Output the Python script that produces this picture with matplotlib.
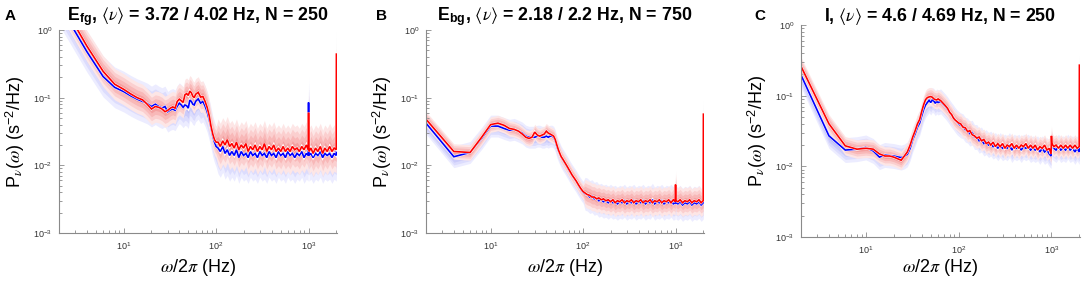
import matplotlib
matplotlib.use("Agg")
import matplotlib.pyplot as plt
import matplotlib.patheffects as pe
import numpy as np

plt.rcParams['font.family'] = ['Liberation Sans', 'DejaVu Sans']
plt.rcParams['mathtext.fontset'] = 'custom'
plt.rcParams['mathtext.rm'] = 'Liberation Sans'
plt.rcParams['mathtext.it'] = 'STIXGeneral:italic'
plt.rcParams['mathtext.bf'] = 'Liberation Sans:bold'
plt.rcParams['mathtext.sf'] = 'Liberation Sans'
plt.rcParams['mathtext.fallback'] = 'stix'

# ---------------- data ----------------
freq_lo = [2, 4, 6, 8, 10, 12, 14, 16, 18, 20, 22, 24, 26, 28, 30, 32, 34, 36, 38, 40,
           42, 44, 46, 48, 50, 52, 54, 56, 58, 60, 64, 68, 72, 76, 80, 84, 88, 92, 96, 100]
freq_hi = [105, 111, 118, 125, 132, 140, 148, 157, 166, 176, 187, 198, 210, 222, 235,
           249, 264, 280, 297, 315, 333, 353, 374, 397, 420, 445, 472, 500, 530, 562,
           595, 631, 668, 708, 750, 795, 843, 893, 946, 990, 1000, 1010, 1060, 1120,
           1190, 1260, 1340, 1420, 1500, 1590, 1690, 1790, 1890, 1990, 2000]

# Panel A (E_fg)
red_A_lo = [3.0, 0.58, 0.245, 0.158, 0.133, 0.113, 0.100, 0.093, 0.080, 0.068, 0.074, 0.072,
            0.068, 0.062, 0.065, 0.070, 0.073, 0.070, 0.088, 0.095, 0.090, 0.085, 0.110, 0.115,
            0.108, 0.125, 0.118, 0.105, 0.100, 0.112, 0.120, 0.102, 0.104, 0.088, 0.072, 0.055,
            0.038, 0.029, 0.024, 0.022]
blue_A_lo = [2.4, 0.48, 0.205, 0.142, 0.123, 0.106, 0.095, 0.088, 0.082, 0.074, 0.080, 0.074,
             0.070, 0.074, 0.062, 0.066, 0.068, 0.065, 0.075, 0.083, 0.078, 0.072, 0.078, 0.076,
             0.070, 0.092, 0.088, 0.080, 0.078, 0.088, 0.096, 0.083, 0.088, 0.075, 0.062, 0.048,
             0.036, 0.027, 0.022, 0.019]
red_A_hi = [0.022, 0.019, 0.023, 0.020, 0.024, 0.019, 0.021, 0.018, 0.022, 0.017, 0.020, 0.018,
            0.021, 0.016, 0.019, 0.017, 0.020, 0.016, 0.019, 0.017, 0.021, 0.016, 0.019, 0.017,
            0.020, 0.016, 0.018, 0.016, 0.019, 0.016, 0.018, 0.016, 0.019, 0.017, 0.018, 0.016,
            0.019, 0.017, 0.020, 0.017, 0.060, 0.016, 0.018, 0.015, 0.018, 0.016, 0.019, 0.015,
            0.018, 0.016, 0.019, 0.016, 0.018, 0.017, 0.44]
blue_A_hi = [0.018, 0.016, 0.019, 0.015, 0.017, 0.014, 0.016, 0.014, 0.017, 0.013, 0.016, 0.014,
             0.015, 0.013, 0.016, 0.014, 0.015, 0.013, 0.016, 0.014, 0.015, 0.013, 0.016, 0.014,
             0.015, 0.013, 0.016, 0.014, 0.015, 0.013, 0.016, 0.014, 0.015, 0.013, 0.015, 0.014,
             0.016, 0.013, 0.015, 0.014, 0.085, 0.014, 0.015, 0.013, 0.015, 0.014, 0.016, 0.013,
             0.015, 0.014, 0.015, 0.013, 0.015, 0.014, 0.016]

# Panel B (E_bg)
red_B_lo = [0.048, 0.016, 0.0155, 0.026, 0.040, 0.042, 0.039, 0.035, 0.034, 0.032, 0.029, 0.026,
            0.025, 0.026, 0.031, 0.028, 0.027, 0.028, 0.029, 0.032, 0.030, 0.029, 0.028, 0.027,
            0.024, 0.020, 0.017, 0.015, 0.0134, 0.0125, 0.0108, 0.0094, 0.0082, 0.0072, 0.0065,
            0.0059, 0.0053, 0.0048, 0.0044, 0.0041]
blue_B_lo = [0.042, 0.0134, 0.0155, 0.025, 0.038, 0.038, 0.035, 0.033, 0.034, 0.032, 0.030, 0.027,
             0.026, 0.026, 0.026, 0.027, 0.027, 0.026, 0.026, 0.027, 0.026, 0.027, 0.027, 0.026,
             0.023, 0.019, 0.0165, 0.0148, 0.0132, 0.0122, 0.0106, 0.0092, 0.0080, 0.0071, 0.0064,
             0.0058, 0.0052, 0.0047, 0.0043, 0.0040]
red_B_hi = [0.0039, 0.0037, 0.0036, 0.0034, 0.0034, 0.0032, 0.0033, 0.0031, 0.0032, 0.0030,
            0.0031, 0.0029, 0.0031, 0.0028, 0.0030, 0.0029, 0.0031, 0.0028, 0.0030, 0.0029,
            0.0031, 0.0028, 0.0030, 0.0029, 0.0031, 0.0028, 0.0030, 0.0029, 0.0031, 0.0028,
            0.0030, 0.0029, 0.0031, 0.0028, 0.0030, 0.0029, 0.0031, 0.0028, 0.0031, 0.0029,
            0.0052, 0.0030, 0.0029, 0.0031, 0.0028, 0.0030, 0.0029, 0.0031, 0.0028, 0.0030,
            0.0029, 0.0031, 0.0028, 0.0030, 0.057]
blue_B_hi = [0.0038, 0.0037, 0.0034, 0.0035, 0.0032, 0.0033, 0.0030, 0.0031, 0.0029, 0.0030,
             0.0028, 0.0030, 0.0028, 0.0029, 0.0027, 0.0029, 0.0028, 0.0030, 0.0027, 0.0029,
             0.0028, 0.0030, 0.0027, 0.0029, 0.0028, 0.0030, 0.0027, 0.0029, 0.0028, 0.0031,
             0.0027, 0.0029, 0.0028, 0.0030, 0.0027, 0.0029, 0.0028, 0.0030, 0.0027, 0.0028,
             0.0035, 0.0028, 0.0027, 0.0029, 0.0026, 0.0028, 0.0027, 0.0029, 0.0026, 0.0028,
             0.0027, 0.0029, 0.0026, 0.0028, 0.0030]

# Panel C (I)
red_C_lo = [0.26, 0.040, 0.0195, 0.0175, 0.018, 0.0175, 0.015, 0.014, 0.014, 0.0135, 0.0128,
            0.0122, 0.014, 0.016, 0.020, 0.026, 0.032, 0.040, 0.046, 0.060, 0.075, 0.088, 0.094,
            0.096, 0.097, 0.095, 0.090, 0.088, 0.087, 0.090, 0.085, 0.078, 0.072, 0.066, 0.058,
            0.054, 0.048, 0.045, 0.043, 0.041]
blue_C_lo = [0.196, 0.027, 0.017, 0.0175, 0.0185, 0.0165, 0.0135, 0.0145, 0.0142, 0.014, 0.0136,
             0.0133, 0.0138, 0.0148, 0.018, 0.024, 0.029, 0.036, 0.041, 0.052, 0.064, 0.074, 0.080,
             0.086, 0.080, 0.087, 0.084, 0.078, 0.083, 0.080, 0.083, 0.076, 0.070, 0.064, 0.058,
             0.053, 0.049, 0.045, 0.042, 0.040]
red_C_hi = [0.040, 0.036, 0.035, 0.031, 0.032, 0.028, 0.027, 0.025, 0.026, 0.023, 0.024, 0.021,
            0.022, 0.020, 0.022, 0.019, 0.021, 0.019, 0.021, 0.018, 0.020, 0.019, 0.021, 0.018,
            0.020, 0.018, 0.020, 0.019, 0.021, 0.018, 0.020, 0.018, 0.020, 0.017, 0.019, 0.018,
            0.020, 0.017, 0.018, 0.015, 0.027, 0.021, 0.019, 0.020, 0.018, 0.020, 0.018, 0.020,
            0.018, 0.020, 0.018, 0.020, 0.018, 0.019, 0.27]
blue_C_hi = [0.038, 0.037, 0.033, 0.032, 0.029, 0.030, 0.026, 0.026, 0.023, 0.024, 0.021, 0.022,
             0.020, 0.021, 0.019, 0.020, 0.018, 0.020, 0.018, 0.019, 0.018, 0.020, 0.017, 0.019,
             0.018, 0.019, 0.017, 0.019, 0.018, 0.019, 0.017, 0.018, 0.017, 0.018, 0.016, 0.018,
             0.016, 0.017, 0.015, 0.014, 0.022, 0.019, 0.018, 0.017, 0.019, 0.017, 0.018, 0.017,
             0.019, 0.017, 0.018, 0.016, 0.018, 0.016, 0.019]

# band spread factors (outermost) : [below 100 Hz, above 100 Hz]
spread_red = {'A': [1.7, 2.2], 'B': [1.3, 1.6], 'C': [1.35, 1.4]}
spread_blue = {'A': [2.0, 2.4], 'B': [1.45, 1.75], 'C': [1.5, 1.5]}

panel_letters = ['A', 'B', 'C']
titles = [r"E$_{\mathbf{fg}}$, $\langle\nu\rangle$ = 3.72 / 4.02 Hz, N = 250",
          r"E$_{\mathbf{bg}}$, $\langle\nu\rangle$ = 2.18 / 2.2 Hz, N = 750",
          r"I, $\langle\nu\rangle$ = 4.6 / 4.69 Hz, N = 250"]
xlabel = r"$\omega$/2$\pi$ (Hz)"
ylabel = r"P$_{\nu}$($\omega$) (s$^{\mathregular{-2}}$/Hz)"

series = {
    'A': (red_A_lo + red_A_hi, blue_A_lo + blue_A_hi),
    'B': (red_B_lo + red_B_hi, blue_B_lo + blue_B_hi),
    'C': (red_C_lo + red_C_hi, blue_C_lo + blue_C_hi),
}

# ---------------- layout (pixels) ----------------
W, H = 1084, 281
fig = plt.figure(figsize=(W / 100, H / 100), dpi=100)
boxes = {'A': (59, 30, 337, 233), 'B': (426, 30, 704, 233), 'C': (801, 25, 1080, 237)}
letter_x = {'A': 5, 'B': 376, 'C': 754}

freq = np.array(freq_lo + freq_hi, dtype=float)
is_hi = freq > 100

RED = '#ff0000'
BLUE = '#0000ff'
red_layers = ['#fde6e6', '#fbcfcf', '#f8b8b8', '#f4a0a0']    # outer -> inner
blue_layers = ['#ececff', '#dcdcfd', '#cbcbfa', '#bbbbf6']
nlay = len(red_layers)

for key in panel_letters:
    x0, y0, x1, y1 = boxes[key]
    ax = fig.add_axes([x0 / W, 1 - y1 / H, (x1 - x0) / W, (y1 - y0) / H])
    red, blue = (np.array(s) for s in series[key])

    for vals, spr, cols in ((blue, spread_blue[key], blue_layers),
                            (red, spread_red[key], red_layers)):
        s = np.where(is_hi, spr[1], spr[0])
        for i, col in enumerate(cols):
            k = nlay - i
            f = s ** (k / nlay)
            ax.fill_between(freq, vals / f, vals * f, color=col, lw=0)

    for vals, col in ((blue, BLUE), (red, RED)):
        ax.plot(freq, vals, color=col, lw=1.2, solid_joinstyle='miter',
                path_effects=[pe.Stroke(linewidth=1.9, foreground='white'), pe.Normal()])

    ax.set_xscale('log')
    ax.set_yscale('log')
    ax.set_xlim(2, 2030)
    ax.set_ylim(1e-3, 1)
    for sp in ('top', 'right'):
        ax.spines[sp].set_visible(False)
    for sp in ('left', 'bottom'):
        ax.spines[sp].set_color('#8a8a8a')
        ax.spines[sp].set_linewidth(0.8)
    ax.tick_params(which='both', direction='in', colors='#8a8a8a', labelcolor='#333333',
                   labelsize=6.5, width=0.6)
    ax.tick_params(which='major', length=3.5, pad=5)
    ax.tick_params(which='minor', length=2)
    ax.set_xticks([10, 100, 1000])

    ax.set_xlabel(xlabel, fontsize=13)
    ax.set_ylabel(ylabel, fontsize=13)
    ax.xaxis.set_label_coords((x0 + x1) / 2 / W, 1 - 257 / H, transform=fig.transFigure)
    ax.yaxis.set_label_coords((x0 - 32) / W, 1 - (y0 + y1) / 2 / H, transform=fig.transFigure)

    fig.text((x0 + x1) / 2 / W, 1 - 21 / H, titles[panel_letters.index(key)],
             ha='center', va='baseline', fontsize=12.8, fontweight='bold')
    fig.text(letter_x[key] / W, 1 - 20 / H, key, ha='left', va='baseline',
             fontsize=11, fontweight='bold')

fig.savefig('out.png', dpi=100)
